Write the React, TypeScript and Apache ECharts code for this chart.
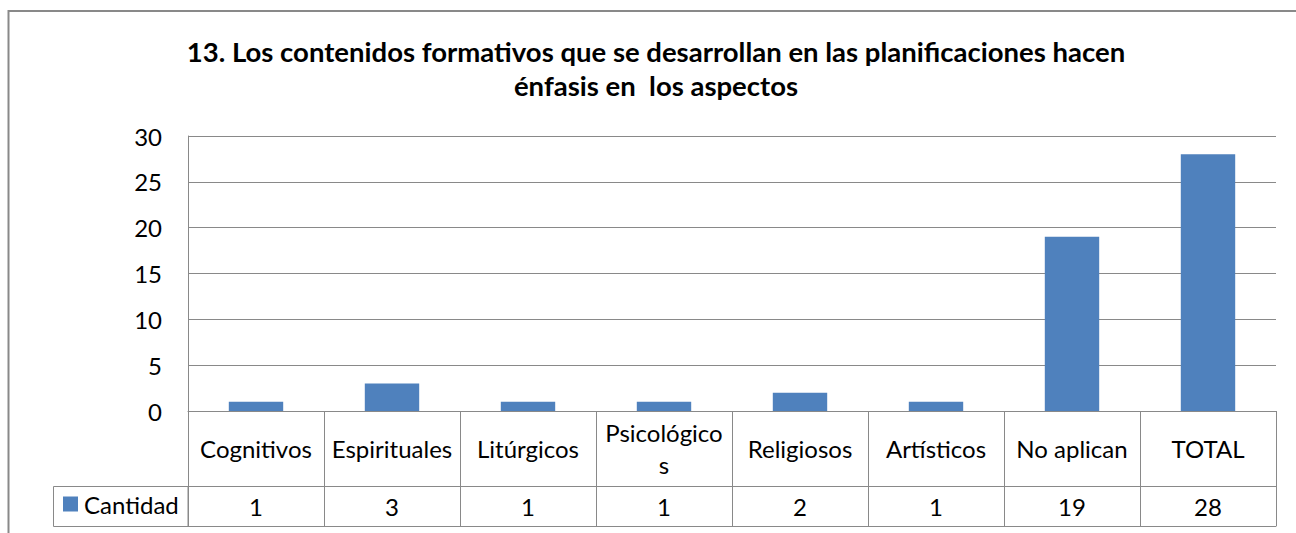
import React, { useEffect, useRef } from "react";
import * as echarts from "echarts";

const titleLines = [
  "13. Los contenidos formativos que se desarrollan en las planificaciones hacen",
  "énfasis en  los aspectos",
];
const categories = [
  "Cognitivos",
  "Espirituales",
  "Litúrgicos",
  "Psicológicos",
  "Religiosos",
  "Artísticos",
  "No aplican",
  "TOTAL",
];
const seriesName = "Cantidad";
const cantidad = [1, 3, 1, 1, 2, 1, 19, 28];
const yMin = 0;
const yMax = 30;
const yInterval = 5;

const FONT = 'Lato, "Noto Sans", sans-serif';
const GRAY = "#898989";
const BAR = "#4F81BD";

function makeMeasurer(font: string) {
  const c = document.createElement("canvas");
  const ctx = c.getContext("2d");
  return (text: string): number => {
    if (!ctx) return text.length * 12;
    ctx.font = font;
    return ctx.measureText(text).width;
  };
}

function breakWord(text: string, maxWidth: number, measure: (t: string) => number): string {
  const lines: string[] = [];
  let cur = "";
  for (const ch of text) {
    if (cur && measure(cur + ch) > maxWidth) {
      lines.push(cur);
      cur = ch;
    } else {
      cur += ch;
    }
  }
  if (cur) lines.push(cur);
  return lines.join("\n");
}

export default function App() {
  const ref = useRef<HTMLDivElement>(null);

  useEffect(() => {
    if (!ref.current) return;
    const chart = echarts.init(ref.current, null, { renderer: "svg" });
    const measure = makeMeasurer("24px " + FONT);
    // cell text width that makes the longest label wrap its last letter, as in the source table
    const longest = categories.reduce((a, b) => (measure(b) > measure(a) ? b : a));
    const wrapWidth = (measure(longest) + measure(longest.slice(0, -1))) / 2;

    const option: any = {
      animation: false,
      backgroundColor: "#ffffff",
      legend: {
        data: [seriesName],
        left: 63,
        top: 492,
        padding: 0,
        icon: "rect",
        itemWidth: 15,
        itemHeight: 15,
        textStyle: { fontFamily: FONT, fontSize: 24, color: "#000", padding: [0, 0, 0, 1] },
      },
      grid: { left: 188, right: 20, top: 136, bottom: 122, containLabel: false },
      xAxis: [
        {
          type: "category",
          data: categories,
          position: "bottom",
          axisLine: { show: true, lineStyle: { color: GRAY, width: 1 } },
          axisTick: { show: true, length: 115, interval: 0, alignWithLabel: false, lineStyle: { color: GRAY, width: 1 } },
          axisLabel: {
            interval: 0,
            margin: 37,
            verticalAlign: "middle",
            fontFamily: FONT,
            fontSize: 24,
            lineHeight: 32,
            color: "#000",
            formatter: (v: string) => breakWord(v, wrapWidth, measure),
          },
        },
        {
          type: "category",
          data: cantidad.map(String),
          position: "bottom",
          offset: 75,
          axisLine: { show: true, lineStyle: { color: GRAY, width: 1 } },
          axisTick: { show: false },
          axisLabel: {
            interval: 0,
            margin: 20,
            verticalAlign: "middle",
            fontFamily: FONT,
            fontSize: 24,
            color: "#000",
          },
        },
        {
          type: "category",
          data: categories,
          position: "bottom",
          offset: 115,
          axisLine: { show: true, lineStyle: { color: GRAY, width: 1 } },
          axisTick: { show: false },
          axisLabel: { show: false },
        },
      ],
      yAxis: {
        type: "value",
        min: yMin,
        max: yMax,
        interval: yInterval,
        axisLine: { show: true, lineStyle: { color: GRAY, width: 1 } },
        axisTick: { show: false },
        splitLine: { show: true, lineStyle: { color: GRAY, width: 1 } },
        axisLabel: { margin: 26, fontFamily: FONT, fontSize: 24, color: "#000" },
      },
      series: [
        {
          name: seriesName,
          type: "bar",
          xAxisIndex: 0,
          data: cantidad,
          barWidth: "40%",
          itemStyle: { color: BAR },
        },
      ],
      graphic: [
        {
          type: "rect",
          shape: { x: 8.5, y: 11, width: 1400, height: 700 },
          style: { fill: "none", stroke: GRAY, lineWidth: 2 },
          silent: true,
        },
        {
          type: "rect",
          shape: { x: 53.5, y: 486.5, width: 134.5, height: 40 },
          style: { fill: "none", stroke: GRAY, lineWidth: 1 },
          silent: true,
        },
        {
          type: "text",
          x: 656,
          y: 34,
          silent: true,
          style: {
            text: titleLines.join("\n"),
            align: "center",
            verticalAlign: "top",
            fontFamily: FONT,
            fontWeight: "bold",
            fontSize: 27.5,
            lineHeight: 34,
            fill: "#000",
          },
        },
      ],
    };
    chart.setOption(option);
    return () => chart.dispose();
  }, []);

  return (
    <div
      ref={ref}
      style={{ position: "absolute", left: 0, top: 0, width: 1296, height: 533 }}
    />
  );
}
